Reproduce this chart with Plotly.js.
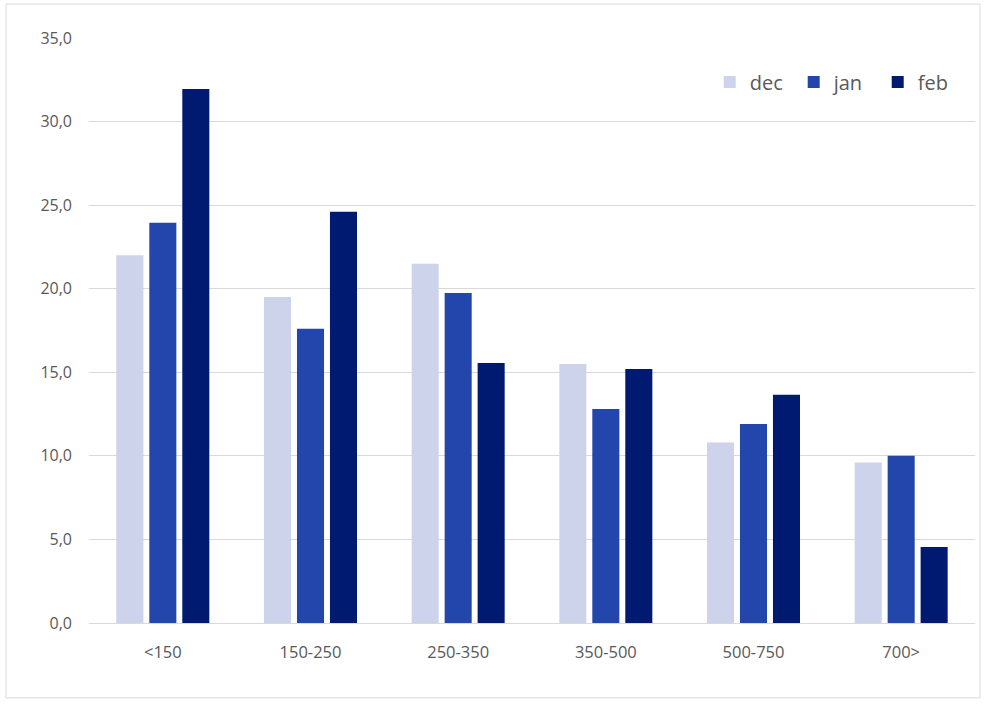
<!DOCTYPE html>
<html>
<head>
<meta charset="utf-8">
<script src="https://cdn.plot.ly/plotly-3.0.1.min.js"></script>
<style>html,body{margin:0;padding:0;background:#fff;}#chart{width:991px;height:704px;}</style>
</head>
<body>
<div id="chart"></div>
<script>
const categories = ['<150', '150-250', '250-350', '350-500', '500-750', '700>'];
const decValues = [22.0, 19.5, 21.5, 15.5, 10.8, 9.6];
const janValues = [23.95, 17.6, 19.75, 12.8, 11.9, 10.0];
const febValues = [31.95, 24.6, 15.55, 15.2, 13.65, 4.55];
const seriesNames = ['dec', 'jan', 'feb'];
const yTicks = [0, 5, 10, 15, 20, 25, 30, 35];

const colors = ['#CDD3EB', '#2346AC', '#001A72'];
const vals = [decValues, janValues, febValues];
const traces = seriesNames.map((n, i) => ({
  type: 'bar', name: n, x: categories, y: vals[i],
  marker: {color: colors[i]}, hoverinfo: 'x+y+name'
}));

const layout = {
  width: 991, height: 704,
  margin: {l: 89, r: 16, t: 38, b: 81},
  paper_bgcolor: '#fff', plot_bgcolor: '#fff',
  font: {family: '"Open Sans", sans-serif', color: '#595959', size: 16},
  separators: ', ',
  barmode: 'group', bargap: 0.33, bargroupgap: 0.18,
  xaxis: {type: 'category', showgrid: false, showline: true, linecolor: '#d9d9d9', linewidth: 1,
          ticks: '', tickfont: {size: 16.5, color: '#595959'}, ticklabelstandoff: 14},
  yaxis: {range: [0, 35], tickvals: yTicks, tickformat: '.1f', showgrid: true, gridcolor: '#d9d9d9',
          zeroline: false, showline: false, ticks: '', tickfont: {size: 16, color: '#595959'}, ticklabelstandoff: 16},
  legend: {orientation: 'h', x: 0.985, xanchor: 'right', y: 0.925, yanchor: 'middle',
           font: {size: 20, color: '#595959'}, itemwidth: 30, entrywidth: 39, entrywidthmode: 'pixels',
           traceorder: 'normal', bgcolor: 'rgba(0,0,0,0)'},
  shapes: [{type: 'rect', xref: 'paper', yref: 'paper', x0: -0.0937, x1: 1.0056, y0: -0.128, y1: 1.058,
            line: {color: '#d9d9d9', width: 1}, fillcolor: 'rgba(0,0,0,0)', layer: 'below'}],
  showlegend: true
};
Plotly.newPlot('chart', traces, layout, {displayModeBar: false, staticPlot: true});
</script>
</body>
</html>
